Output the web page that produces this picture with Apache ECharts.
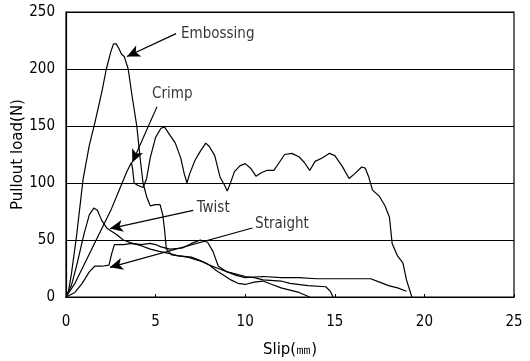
<!DOCTYPE html>
<html>
<head>
<meta charset="utf-8">
<script src="https://cdn.jsdelivr.net/npm/echarts@6/dist/echarts.min.js"></script>
<style>
  html, body { margin: 0; padding: 0; background: #fff; }
  #chart { width: 530px; height: 361px; }
</style>
</head>
<body>
<div id="chart"></div>
<script>
// slip (mm), load (N) pairs
var embossing = [
  [0,0],[0.15,6],[0.3,20],[0.6,55],[0.95,103],[1.3,133],[1.6,152],[2.0,180],[2.25,200],
  [2.5,215],[2.65,222],[2.8,222],[2.95,218],[3.1,213],[3.25,211],[3.47,200],[3.7,175],
  [3.95,150],[4.15,120],[4.3,100],[4.5,88],[4.7,80],[5.0,81],[5.25,81],[5.4,72],[5.5,59],
  [5.6,42],[5.9,37],[6.3,36],[6.8,35],[7.2,33],[7.6,31],[8.0,28],[8.4,23],[8.8,19],
  [9.2,15],[9.6,12],[10.0,11],[10.5,13],[11.0,14],[11.5,11],[12.0,8],[12.5,6],[13.0,4],
  [13.3,2],[13.6,0]
];
var crimp = [
  [0,0],[0.5,12],[1.0,28],[1.5,44],[2.0,60],[2.5,76],[3.0,95],[3.4,110],[3.65,118],
  [3.72,112],[3.8,100],[4.0,98],[4.3,96],[4.5,104],[4.7,122],[5.0,140],[5.3,148],[5.5,149],
  [5.8,142],[6.1,135],[6.4,122],[6.6,108],[6.75,100],[6.9,108],[7.2,120],[7.5,128],
  [7.8,135],[8.0,132],[8.3,124],[8.6,105],[8.85,98],[9.0,93],[9.2,101],[9.4,110],[9.7,115],
  [10.0,117],[10.3,113],[10.6,106],[10.9,109],[11.2,111],[11.6,111],[11.9,118],[12.2,125],
  [12.6,126],[13.0,123],[13.3,118],[13.6,111],[13.9,119],[14.3,122],[14.7,126],[15.0,124],
  [15.4,115],[15.8,104],[16.1,108],[16.5,114],[16.7,113],[16.9,105],[17.1,94],[17.5,88],
  [17.8,80],[18.05,70],[18.2,47],[18.5,36],[18.8,30],[19.0,15],[19.3,0]
];
var twist = [
  [0,0],[0.3,10],[0.6,28],[1.0,55],[1.3,72],[1.55,78],[1.75,76],[2.0,67],[2.3,60],
  [2.8,55],[3.2,50],[3.7,47],[4.2,45],[4.7,42],[5.2,40],[5.8,38],[6.3,36],[7.0,35],
  [7.5,32],[8.0,28],[8.5,25],[9.0,22],[9.5,20],[10.0,18],[10.5,17],[11.0,15],[12.0,14],
  [12.5,12],[13.5,10],[14.5,9],[14.75,5],[14.9,0]
];
var straight = [
  [0,0],[0.5,4],[0.9,12],[1.3,22],[1.6,27],[2.0,27],[2.4,28],[2.55,38],[2.7,46],[3.2,46],
  [3.7,47],[4.2,46],[4.7,47],[5.0,46],[5.3,44],[5.8,42],[6.5,43],[7.0,47],[7.5,50],
  [7.9,48],[8.2,40],[8.5,27],[9.0,22],[9.5,19],[10.0,17],[11.0,18],[12.0,17],[13.0,17],
  [14.0,16],[15.0,16],[16.0,16],[17.0,16],[17.5,13],[18.0,10],[18.5,8],[19.0,5]
];

// annotation labels: [name, x, y] and arrows [fromX, fromY, toX, toY]
var labelNames = ['Embossing', 'Crimp', 'Twist', 'Straight'];
var labelPos = [[6.42, 231], [4.8, 178], [7.3, 78], [10.55, 64]];
var arrows = [
  [6.14, 231, 3.4, 211],
  [5.08, 167, 3.7, 118],
  [7.1, 76, 2.45, 60],
  [10.4, 60.5, 2.45, 26]
];

var font = 'DejaVu Sans Condensed';
var chart = echarts.init(document.getElementById('chart'));

function curve(name, data) {
  return {
    name: name, type: 'line', data: data, showSymbol: false, silent: true,
    lineStyle: { color: '#000', width: 1.2 }, animation: false
  };
}

var option = {
  animation: false,
  grid: {
    show: true, left: 66, top: 12, right: 16, bottom: 64,
    outerBoundsMode: 'none', containLabel: false,
    borderColor: '#000', borderWidth: 1.2, backgroundColor: '#fff'
  },
  xAxis: {
    type: 'value', min: 0, max: 25, interval: 5,
    name: 'Slip(㎜)', nameLocation: 'middle', nameGap: 46, nameMoveOverlap: false,
    nameTextStyle: { fontFamily: 'DejaVu Sans', fontSize: 15, color: '#000' },
    axisLine: { show: true, lineStyle: { color: '#000', width: 1.2 } },
    axisTick: { show: true, inside: true, length: 3, lineStyle: { color: '#000' } },
    axisLabel: { fontFamily: font, fontSize: 15, color: '#000', margin: 18 },
    splitLine: { show: false }
  },
  yAxis: {
    type: 'value', min: 0, max: 250, interval: 50,
    name: 'Pullout load(N)', nameLocation: 'middle', nameGap: 40, nameMoveOverlap: false,
    nameTextStyle: { fontFamily: 'DejaVu Sans', fontSize: 15, color: '#000' },
    axisLine: { show: true, lineStyle: { color: '#000', width: 1.2 } },
    axisTick: { show: false },
    axisLabel: { fontFamily: font, fontSize: 15, color: '#000', margin: 11 },
    splitLine: { show: true, lineStyle: { color: '#000', width: 1.2 } }
  },
  series: [
    curve('Embossing', embossing),
    curve('Crimp', crimp),
    curve('Twist', twist),
    curve('Straight', straight),
    {
      type: 'scatter', silent: true, symbolSize: 0,
      data: labelNames.map(function (n, i) { return { name: n, value: labelPos[i] }; }),
      label: {
        show: true, position: 'right', distance: 0, formatter: '{b}',
        fontFamily: font, fontSize: 15, color: '#000'
      }
    },
    {
      type: 'line', data: [], silent: true,
      markLine: {
        silent: true, animation: false,
        symbol: ['none', 'arrow'], symbolSize: [9, 13],
        label: { show: false },
        lineStyle: { color: '#000', width: 1.2, type: 'solid' },
        data: arrows.map(function (a) {
          return [{ coord: [a[0], a[1]] }, { coord: [a[2], a[3]] }];
        })
      }
    }
  ]
};
chart.setOption(option);
</script>
</body>
</html>
